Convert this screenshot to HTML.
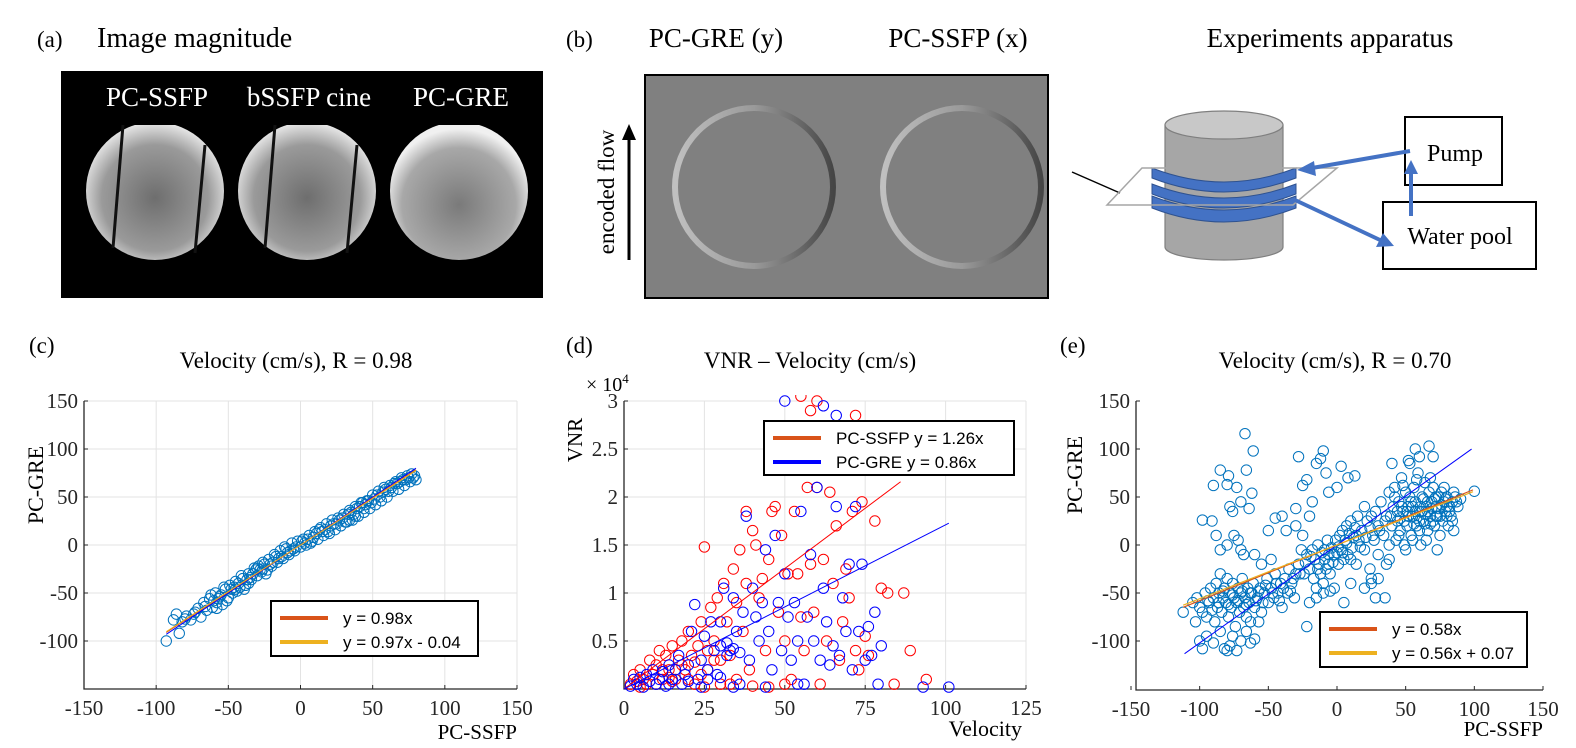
<!DOCTYPE html>
<html><head><meta charset="utf-8">
<style>
html,body{margin:0;padding:0;background:#fff;}
svg{display:block;}
.serif{font-family:"Liberation Serif","DejaVu Serif",serif;}
.sans{font-family:"Liberation Sans","DejaVu Sans",sans-serif;}
</style></head>
<body>
<svg id="fig" width="1576" height="748" viewBox="0 0 1576 748" xmlns="http://www.w3.org/2000/svg">
<defs>
  <radialGradient id="magGrad" cx="50%" cy="55%" r="55%">
    <stop offset="0" stop-color="#6e6e6e"/><stop offset="0.7" stop-color="#9a9a9a"/><stop offset="1" stop-color="#e8e8e8"/>
  </radialGradient>
  <radialGradient id="greGrad" cx="50%" cy="60%" r="55%">
    <stop offset="0" stop-color="#7a7a7a"/><stop offset="0.75" stop-color="#a8a8a8"/><stop offset="1" stop-color="#f0f0f0"/>
  </radialGradient>
  <linearGradient id="ringGrad" x1="0" y1="0" x2="1" y2="0">
    <stop offset="0" stop-color="#c0c0c0"/><stop offset="0.5" stop-color="#9a9a9a"/><stop offset="1" stop-color="#454545"/>
  </linearGradient>
  <clipPath id="clipA1"><rect x="60" y="125" width="500" height="200"/></clipPath>
</defs>

<!-- Panel (a) -->
<g>
  <text class="serif" x="37" y="47" font-size="23">(a)</text>
  <text class="serif" x="97" y="47" font-size="28">Image magnitude</text>
  <rect x="61" y="71" width="482" height="227" fill="#000"/>
  <g clip-path="url(#clipA1)">
    <circle cx="155" cy="191" r="69" fill="url(#magGrad)"/>
    <circle cx="307" cy="191" r="69" fill="url(#magGrad)"/>
    <circle cx="459" cy="191" r="69" fill="url(#greGrad)"/>
  </g>
  <line x1="123" y1="125" x2="113" y2="248" stroke="#111" stroke-width="3"/>
  <line x1="205" y1="145" x2="195" y2="253" stroke="#111" stroke-width="3"/>
  <line x1="275" y1="125" x2="265" y2="248" stroke="#111" stroke-width="3"/>
  <line x1="357" y1="145" x2="347" y2="253" stroke="#111" stroke-width="3"/>
  <text class="serif" x="157" y="106" font-size="27" fill="#fff" text-anchor="middle">PC-SSFP</text>
  <text class="serif" x="309" y="106" font-size="27" fill="#fff" text-anchor="middle">bSSFP cine</text>
  <text class="serif" x="461" y="106" font-size="27" fill="#fff" text-anchor="middle">PC-GRE</text>
</g>

<!-- Panel (b) -->
<g>
  <text class="serif" x="566" y="47" font-size="23">(b)</text>
  <text class="serif" x="716" y="47" font-size="27" text-anchor="middle">PC-GRE (y)</text>
  <text class="serif" x="958" y="47" font-size="27" text-anchor="middle">PC-SSFP (x)</text>
  <rect x="645" y="75" width="403" height="223" fill="#808080" stroke="#000" stroke-width="2"/>
  <circle cx="754" cy="187" r="79" fill="none" stroke="url(#ringGrad)" stroke-width="6"/>
  <circle cx="962" cy="187" r="79" fill="none" stroke="url(#ringGrad)" stroke-width="6"/>
  <line x1="629" y1="260" x2="629" y2="138" stroke="#000" stroke-width="3"/>
  <polygon points="622,140 636,140 629,124" fill="#000"/>
  <text class="serif" font-size="23" transform="translate(614,192) rotate(-90)" text-anchor="middle">encoded flow</text>

  <text class="serif" x="1330" y="47" font-size="27" text-anchor="middle">Experiments apparatus</text>
  <g>
    <line x1="1072" y1="172" x2="1120" y2="193" stroke="#000" stroke-width="1.5"/>
    <path d="M1165,125 L1165,247 A59,13 0 0 0 1283,247 L1283,125 Z" fill="#a6a6a6" stroke="#7f7f7f" stroke-width="1.2"/>
    <ellipse cx="1224" cy="125" rx="59" ry="14" fill="#c8c8c8" stroke="#7f7f7f" stroke-width="1.2"/>
    <path d="M1152,168 Q1224,196 1296,168 L1296,178 Q1224,206 1152,178 Z" fill="#4472c4" stroke="#2f528f" stroke-width="1"/>
    <path d="M1152,184 Q1224,212 1296,184 L1296,194 Q1224,222 1152,194 Z" fill="#4472c4" stroke="#2f528f" stroke-width="1"/>
    <path d="M1152,196 Q1224,224 1296,196 L1296,208 Q1224,236 1152,208 Z" fill="#4472c4" stroke="#2f528f" stroke-width="1"/>
    <polygon points="1107,205 1142,168 1337,168 1293,205" fill="none" stroke="#a6a6a6" stroke-width="1.5"/>
    <rect x="1405" y="117" width="97" height="68" fill="#fff" stroke="#000" stroke-width="2"/>
    <text class="serif" x="1455" y="161" font-size="24" text-anchor="middle">Pump</text>
    <rect x="1383" y="202" width="153" height="67" fill="#fff" stroke="#000" stroke-width="2"/>
    <text class="serif" x="1460" y="244" font-size="24" text-anchor="middle">Water pool</text>
    <line x1="1410" y1="151" x2="1312" y2="168" stroke="#4472c4" stroke-width="4"/>
    <polygon points="1297,170 1314,161 1316,176" fill="#4472c4"/>
    <line x1="1411" y1="216" x2="1411" y2="172" stroke="#4472c4" stroke-width="4"/>
    <polygon points="1404,174 1418,174 1411,160" fill="#4472c4"/>
    <line x1="1295" y1="200" x2="1380" y2="240" stroke="#4472c4" stroke-width="4"/>
    <polygon points="1394,246 1376,247 1383,233" fill="#4472c4"/>
  </g>
</g>

<g id="plots"></g>
</svg>

<script>
// ---------- Panel (c) data ----------
const cTicksX = [-150,-100,-50,0,50,100,150];
const cTicksY = [-100,-50,0,50,100,150];
const cFitSlope = [0.98, 0.97];
const cFitIntercept = [0, -0.04];
const cPoints = [[-93,-100],[-84,-92],[-88,-78],[-86,-72],[-82,-80],[-79,-74],[-76,-78],[-73,-70],[-71,-66],[-69,-75],[-67,-60],[-65,-68],[-63,-56],[-61,-65],[-59,-50],[-58,-60],[-56,-54],[-54,-62],[-52,-46],[-50,-55],[-49,-42],[-47,-50],[-45,-38],[-44,-48],[-42,-44],[-40,-35],[-38,-42],[-36,-30],[-34,-36],[-32,-24],[-30,-32],[-29,-22],[-27,-28],[-25,-20],[-24,-30],[-22,-15],[-20,-22],[-18,-10],[-16,-18],[-14,-6],[-12,-14],[-10,-4],[-8,-10],[-6,2],[-4,-6],[-2,4],[0,-2],[2,6],[4,0],[6,10],[8,4],[10,14],[12,6],[14,18],[16,10],[18,22],[20,12],[22,26],[24,16],[26,28],[28,20],[30,32],[32,24],[34,36],[36,26],[38,40],[40,30],[42,44],[44,34],[46,46],[48,38],[50,52],[52,42],[54,56],[56,46],[58,60],[60,50],[62,62],[64,56],[66,66],[68,58],[70,70],[72,62],[74,72],[76,66],[78,70],[80,68],[-60,-58],[-55,-52],[-48,-46],[-43,-40],[-37,-36],[-33,-30],[-26,-25],[-21,-20],[-15,-14],[-9,-8],[-3,-2],[3,2],[9,8],[15,14],[21,20],[27,26],[33,32],[39,38],[45,42],[51,48],[57,55],[63,60],[69,66],[75,70],[-80,-77],[-74,-72],[-66,-64],[-57,-56],[-46,-44],[-35,-34],[-28,-26],[-19,-18],[-13,-12],[-7,-6],[5,6],[11,12],[17,16],[23,22],[29,28],[35,34],[41,40],[47,46],[53,52],[59,58],[65,64],[71,68],[77,74],[-62,-52],[-58,-66],[-53,-44],[-51,-58],[-45,-46],[-41,-32],[-39,-46],[-31,-26],[-23,-26],[-17,-12],[-11,-2],[-5,-4],[1,4],[7,2],[13,16],[19,14],[25,22],[31,24],[37,32],[43,44],[49,44],[55,50],[61,56],[67,64],[73,68],[79,72],[34,26],[38,30],[44,38],[-26,-18],[-30,-24],[-36,-40]];

// ---------- Panel (d) data ----------
const dTicksX = [0,25,50,75,100,125];
const dTicksY = [0.5,1,1.5,2,2.5,3];
const dTickLabelsY = ["0.5","1","1.5","2","2.5","3"];
const dFitSlope = [0.0251, 0.0171];
const dFitXmax = [86, 101];
const dRed = [[2,0.05],[3,0.15],[4,0.08],[5,0.2],[6,0.1],[7,0.05],[8,0.3],[9,0.15],[10,0.25],[11,0.4],[12,0.1],[13,0.35],[14,0.2],[15,0.45],[16,0.1],[17,0.3],[18,0.5],[19,0.2],[20,0.6],[21,0.35],[22,0.05],[23,0.45],[24,0.7],[25,1.48],[26,0.2],[27,0.85],[28,0.5],[29,0.95],[30,0.3],[31,1.1],[32,0.7],[33,0.05],[34,1.25],[35,0.9],[36,1.45],[37,0.6],[38,1.85],[38,1.1],[39,0.2],[40,1.65],[41,1.5],[42,0.95],[43,1.15],[44,0.4],[45,1.35],[46,1.85],[47,1.9],[48,0.8],[49,1.6],[50,0.5],[51,1.2],[52,0.1],[53,1.85],[54,1.2],[55,0.75],[56,0.4],[57,2.1],[58,1.3],[59,0.8],[60,2.1],[61,0.05],[62,1.35],[63,0.5],[64,2.05],[65,1.1],[66,1.7],[67,0.3],[68,0.7],[69,1.25],[70,0.95],[71,1.85],[72,0.4],[73,0.2],[74,1.95],[75,0.55],[76,0.35],[78,1.75],[80,1.05],[82,1.0],[84,0.05],[87,1.0],[89,0.4],[94,0.1],[55,3.05],[60,3.0],[58,2.9],[72,2.85],[5,0.02],[10,0.05],[15,0.08],[20,0.1],[25,0.02],[30,0.05],[35,0.1],[40,0.03],[45,0.02],[50,0.05],[12,0.2],[18,0.25],[22,0.28],[28,0.3],[33,0.35],[14,0.12],[24,0.15],[26,0.4]];
const dBlue = [[2,0.03],[3,0.1],[4,0.05],[5,0.12],[6,0.02],[7,0.15],[8,0.08],[9,0.2],[10,0.05],[11,0.1],[12,0.18],[13,0.03],[14,0.25],[15,0.1],[16,0.2],[17,0.35],[18,0.05],[19,0.15],[20,0.25],[21,0.6],[22,0.88],[23,0.1],[24,0.3],[25,0.55],[26,0.2],[27,0.7],[28,0.4],[29,0.15],[30,0.7],[31,1.05],[32,0.35],[33,0.4],[34,0.95],[35,0.6],[36,0.05],[37,0.8],[38,1.8],[39,0.3],[40,1.05],[41,0.75],[42,0.5],[43,0.9],[44,1.45],[45,0.6],[46,0.2],[47,1.6],[48,0.9],[49,0.4],[50,1.2],[51,0.75],[52,0.3],[53,0.9],[54,0.5],[55,1.85],[56,0.05],[57,0.75],[58,1.4],[59,0.5],[60,2.1],[61,0.3],[62,1.05],[63,0.7],[64,0.25],[65,0.45],[66,1.9],[67,0.35],[68,0.95],[69,0.6],[70,1.3],[71,0.2],[72,1.9],[73,0.6],[74,1.3],[75,0.3],[76,0.65],[77,0.35],[78,0.8],[79,0.05],[80,0.45],[93,0.02],[101,0.02],[50,3.0],[62,2.95],[66,2.85],[30,0.45],[32,0.48],[34,0.42],[36,0.38],[14,0.05],[24,0.02],[34,0.02],[44,0.02],[54,0.05],[20,0.08],[26,0.1],[30,0.12]];

// ---------- Panel (e) data ----------
const eTicksX = [-150,-100,-50,0,50,100,150];
const eTicksY = [-100,-50,0,50,100,150];
const eFitSlope = [0.58, 0.56, 1.02];
const eFitIntercept = [0, 0.07, 0];
const eFitRange = [[-112,99],[-112,99],[-111,98]];
const ePoints = [[-112,-70],[-105,-60],[-102,-55],[-100,-65],[-98,-70],[-96,-50],[-95,-75],[-93,-60],[-92,-45],[-90,-55],[-89,-80],[-88,-40],[-87,-65],[-86,-50],[-85,-30],[-84,-70],[-83,-55],[-82,-45],[-81,-60],[-80,-35],[-79,-75],[-78,-50],[-77,-65],[-76,-40],[-75,-55],[-74,-85],[-73,-60],[-72,-45],[-71,-70],[-70,-50],[-69,-35],[-68,-65],[-67,-55],[-66,-75],[-65,-45],[-64,-60],[-63,-80],[-62,-50],[-61,-40],[-60,-65],[-58,-55],[-56,-45],[-55,-70],[-53,-50],[-51,-35],[-50,-60],[-48,-45],[-46,-55],[-45,-30],[-43,-50],[-41,-40],[-40,-65],[-38,-35],[-36,-50],[-35,-25],[-33,-40],[-31,-55],[-30,-30],[-100,-100],[-98,-108],[-95,-95],[-90,-102],[-85,-90],[-82,-108],[-80,-110],[-78,-105],[-76,-95],[-73,-110],[-70,-100],[-66,-90],[-63,-102],[-60,-98],[-57,-80],[-103,-80],[-98,26],[-91,25],[-88,10],[-85,78],[-90,62],[-79,72],[-80,63],[-78,40],[-76,35],[-73,60],[-70,45],[-66,78],[-64,38],[-62,54],[-67,116],[-61,98],[-75,10],[-72,5],[-70,-5],[-68,-10],[-85,-5],[-80,0],[-60,-10],[-55,-20],[-50,15],[-48,-15],[-45,28],[-40,30],[-37,15],[-30,38],[-28,92],[-25,62],[-22,68],[-20,30],[-18,45],[-15,85],[-12,90],[-10,98],[-8,75],[-6,55],[0,60],[3,82],[8,70],[13,72],[-30,20],[-25,10],[-28,-20],[-26,-5],[-24,-30],[-22,-10],[-20,-25],[-18,-5],[-17,-35],[-16,-15],[-15,-45],[-14,0],[-13,-20],[-12,-30],[-11,-8],[-10,-40],[-9,-15],[-8,-25],[-7,5],[-6,-10],[-5,-30],[-4,-3],[-3,-18],[-2,-45],[-1,5],[0,-8],[1,-20],[2,10],[3,-5],[4,15],[5,-15],[6,5],[7,20],[8,-10],[9,12],[10,25],[11,-3],[12,8],[13,18],[14,-20],[15,30],[16,5],[18,15],[20,-5],[22,25],[24,-25],[26,10],[28,35],[30,-10],[-20,-60],[-15,-55],[-10,-50],[-5,-48],[5,-60],[10,-40],[-22,-85],[20,-45],[25,-35],[20,40],[25,30],[30,20],[32,45],[34,10],[36,30],[38,55],[38,0],[40,20],[41,40],[42,60],[43,5],[44,25],[45,45],[46,15],[47,70],[48,35],[49,0],[50,55],[51,20],[52,40],[53,85],[54,10],[55,30],[56,60],[57,45],[58,20],[59,75],[60,35],[61,0],[62,50],[63,25],[64,65],[65,40],[66,15],[67,55],[68,30],[69,45],[70,60],[71,20],[72,40],[73,-5],[74,50],[75,30],[76,55],[77,25],[78,45],[79,35],[80,50],[81,20],[82,40],[83,30],[84,45],[85,15],[86,50],[88,40],[90,48],[100,56],[57,100],[67,103],[70,92],[60,92],[52,88],[40,85],[36,-20],[38,-15],[30,-35],[25,-40],[28,-55],[35,-55],[45,10],[55,5],[65,5],[75,10],[50,-5],[60,15],[70,25],[80,30],[42,50],[48,62],[58,68],[68,70],[78,60],[85,55],[55,40],[62,35],[66,45],[72,30],[58,28],[64,22],[52,30],[46,28],[74,38],[80,40],[-94,-58],[-91,-68],[-86,-60],[-83,-48],[-79,-62],[-76,-52],[-72,-58],[-69,-48],[-66,-62],[-63,-50],[-59,-58],[-57,-48],[-54,-60],[-52,-42],[-47,-50],[-44,-40],[-42,-58],[-39,-45],[-34,-48],[-32,-35],[-27,-30],[-23,-18],[-19,-12],[-14,-25],[-9,-5],[-6,-20],[-2,-10],[1,-2],[4,-8],[7,2],[10,-15],[14,10],[17,-2],[21,8],[24,18],[27,5],[31,15],[35,25],[39,30],[44,35],[47,40],[51,35],[54,45],[57,35],[61,40],[63,48],[66,35],[69,38],[71,48],[73,30],[76,42],[79,48],[82,35],[84,25],[87,45],[56,22],[60,25],[64,32],[68,22],[72,50],[53,50],[49,25]];

const NS = "http://www.w3.org/2000/svg";
const root = document.getElementById('plots');
function mk(tag, attrs, parent) {
  const el = document.createElementNS(NS, tag);
  for (const k in attrs) el.setAttribute(k, attrs[k]);
  (parent || root).appendChild(el);
  return el;
}
function linScale(d0, d1, r0, r1) { return v => r0 + (v - d0) * (r1 - r0) / (d1 - d0); }

function axes(g, sx, sy, box, ticksX, ticksY, labelsY, grid) {
  ticksX.forEach(t => {
    const x = sx(t);
    if (grid) { const gl = mk('line', {x1:x, x2:x, y1:box.t, y2:box.b, stroke:'#e3e3e3', 'stroke-width':1}, g);
        }
    mk('line', {x1:x, x2:x, y1:box.b, y2:box.b-4, stroke:'#262626', 'stroke-width':1}, g);
    const tx = mk('text', {x:x, y:box.b+26, 'font-size':21, 'text-anchor':'middle', class:'serif', fill:'#262626'}, g);
    
    
    tx.textContent = String(t);
  });
  ticksY.forEach((t, i) => {
    const y = sy(t);
    if (grid) { const gl = mk('line', {x1:box.l, x2:box.r, y1:y, y2:y, stroke:'#e3e3e3', 'stroke-width':1}, g);
        }
    mk('line', {x1:box.l, x2:box.l+4, y1:y, y2:y, stroke:'#262626', 'stroke-width':1}, g);
    const ty = mk('text', {x:box.l-6, y:y+7, 'font-size':21, 'text-anchor':'end', class:'serif', fill:'#262626'}, g);
    
    
    ty.textContent = labelsY ? labelsY[i] : String(t);
  });
  const ax = mk('path', {d:`M${box.l},${box.t} L${box.l},${box.b} L${box.r},${box.b}`, fill:'none', stroke:'#262626', 'stroke-width':1.3}, g);
  
  
}
function scatter(g, pts, sx, sy, color, name) {
  pts.forEach(p => {
    const c = mk('circle', {cx:sx(p[0]), cy:sy(p[1]), r:5.2, fill:'none', stroke:color, 'stroke-width':1}, g);
    
    
  });
}
function fitLine(g, sx, sy, x0, x1, m, b, color, w, name) {
  const l = mk('line', {x1:sx(x0), y1:sy(m*x0+b), x2:sx(x1), y2:sy(m*x1+b), stroke:color, 'stroke-width':w}, g);
  
  
}
function legend(g, x, y, w, h, entries) {
  const r = mk('rect', {x:x, y:y, width:w, height:h, fill:'#fff', stroke:'#000', 'stroke-width':2}, g);
  
  
  entries.forEach((e, i) => {
    const yy = y + 17 + i*24;
    const ln = mk('line', {x1:x+9, x2:x+57, y1:yy, y2:yy, stroke:e[1], 'stroke-width':4}, g);
    
    
    const t = mk('text', {x:x+72, y:yy+6, 'font-size':17, class:'sans', fill:'#000'}, g);
    
    
    t.textContent = e[0];
  });
}
function text(g, x, y, s, size, anchor, name, rot) {
  const t = mk('text', {x:x, y:y, 'font-size':size, 'text-anchor':anchor || 'start', class:'serif', fill:'#000'}, g);
  if (rot) t.setAttribute('transform', `rotate(-90 ${x} ${y})`);
  
  
  t.textContent = s;
  return t;
}

// ---- Panel c ----
{
  const g = mk('g', {});
  
  
  const box = {l:84, r:517, t:401, b:689};
  const sx = linScale(-150, 150, 84, 517), sy = linScale(-150, 150, 689, 401);
  axes(g, sx, sy, box, cTicksX, cTicksY, null, true);
  scatter(g, cPoints, sx, sy, '#0072BD', 'velocity-point');
  fitLine(g, sx, sy, -93, 80, 1.0, 0, '#0000ff', 1, 'identity-line');
  fitLine(g, sx, sy, -93, 80, cFitSlope[0], cFitIntercept[0], '#D95319', 1, 'fit-line-0-98');
  fitLine(g, sx, sy, -93, 80, cFitSlope[1], cFitIntercept[1], '#EDB120', 1, 'fit-line-0-97');
  legend(g, 271, 601, 207, 55, [['y = 0.98x', '#D95319'], ['y = 0.97x - 0.04', '#EDB120']]);
  text(g, 29, 353, '(c)', 23, 'start', 'panel-c-label');
  text(g, 296, 368, 'Velocity (cm/s), R = 0.98', 23, 'middle', 'panel-c-title');
  text(g, 43, 485, 'PC-GRE', 22, 'middle', 'y-axis-title', true);
  text(g, 517, 739, 'PC-SSFP', 21, 'end', 'x-axis-title');
}
// ---- Panel d ----
{
  const g = mk('g', {});
  
  
  const box = {l:624, r:1026, t:401, b:689};
  const sx = linScale(0, 125, 624, 1026), sy = linScale(0, 3, 689, 401);
  axes(g, sx, sy, box, dTicksX, dTicksY, dTickLabelsY, true);
  const clip = mk('clipPath', {id:'clipD'}, g);
  mk('rect', {x:box.l, y:box.t-6, width:box.r-box.l, height:box.b-box.t+12}, clip);
  const inner = mk('g', {'clip-path':'url(#clipD)'}, g);
  
  
  scatter(inner, dRed, sx, sy, '#ff0000', 'pc-ssfp-vnr-point');
  scatter(inner, dBlue, sx, sy, '#0000ff', 'pc-gre-vnr-point');
  fitLine(g, sx, sy, 0, dFitXmax[0], dFitSlope[0], 0, '#ff0000', 1, 'pc-ssfp-fit-line');
  fitLine(g, sx, sy, 0, dFitXmax[1], dFitSlope[1], 0, '#0000ff', 1, 'pc-gre-fit-line');
  legend(g, 764, 421, 250, 54, [['PC-SSFP y = 1.26x', '#D95319'], ['PC-GRE  y = 0.86x', '#0000ff']]);
  text(g, 566, 353, '(d)', 23, 'start', 'panel-d-label');
  text(g, 810, 368, 'VNR \u2013 Velocity (cm/s)', 23, 'middle', 'panel-d-title');
  text(g, 582, 440, 'VNR', 21, 'middle', 'y-axis-title', true);
  const ex = text(g, 586, 391, '\u00d7 10', 20, 'start', 'y-axis-exponent');
  const sup = mk('tspan', {dy:-8, 'font-size':13}, ex); sup.textContent = '4';
  text(g, 1022, 736, 'Velocity', 22, 'end', 'x-axis-title');
}
// ---- Panel e ----
{
  const g = mk('g', {});
  
  
  const box = {l:1136, r:1543, t:401, b:690};
  const sx = linScale(-150, 150, 1131, 1543), sy = linScale(-150, 150, 689, 401);
  axes(g, sx, sy, box, eTicksX, eTicksY, null, false);
  scatter(g, ePoints, sx, sy, '#0072BD', 'velocity-point');
  fitLine(g, sx, sy, eFitRange[2][0], eFitRange[2][1], eFitSlope[2], eFitIntercept[2], '#0000ff', 1, 'identity-fit-line');
  fitLine(g, sx, sy, eFitRange[0][0], eFitRange[0][1], eFitSlope[0], eFitIntercept[0], '#D95319', 1.2, 'fit-line-0-58');
  fitLine(g, sx, sy, eFitRange[1][0], eFitRange[1][1], eFitSlope[1], eFitIntercept[1], '#EDB120', 1.2, 'fit-line-0-56');
  legend(g, 1320, 612, 207, 55, [['y = 0.58x', '#D95319'], ['y = 0.56x + 0.07', '#EDB120']]);
  text(g, 1060, 353, '(e)', 23, 'start', 'panel-e-label');
  text(g, 1335, 368, 'Velocity (cm/s), R = 0.70', 23, 'middle', 'panel-e-title');
  text(g, 1082, 475, 'PC-GRE', 22, 'middle', 'y-axis-title', true);
  text(g, 1543, 736, 'PC-SSFP', 21, 'end', 'x-axis-title');
}
</script>
</body></html>
